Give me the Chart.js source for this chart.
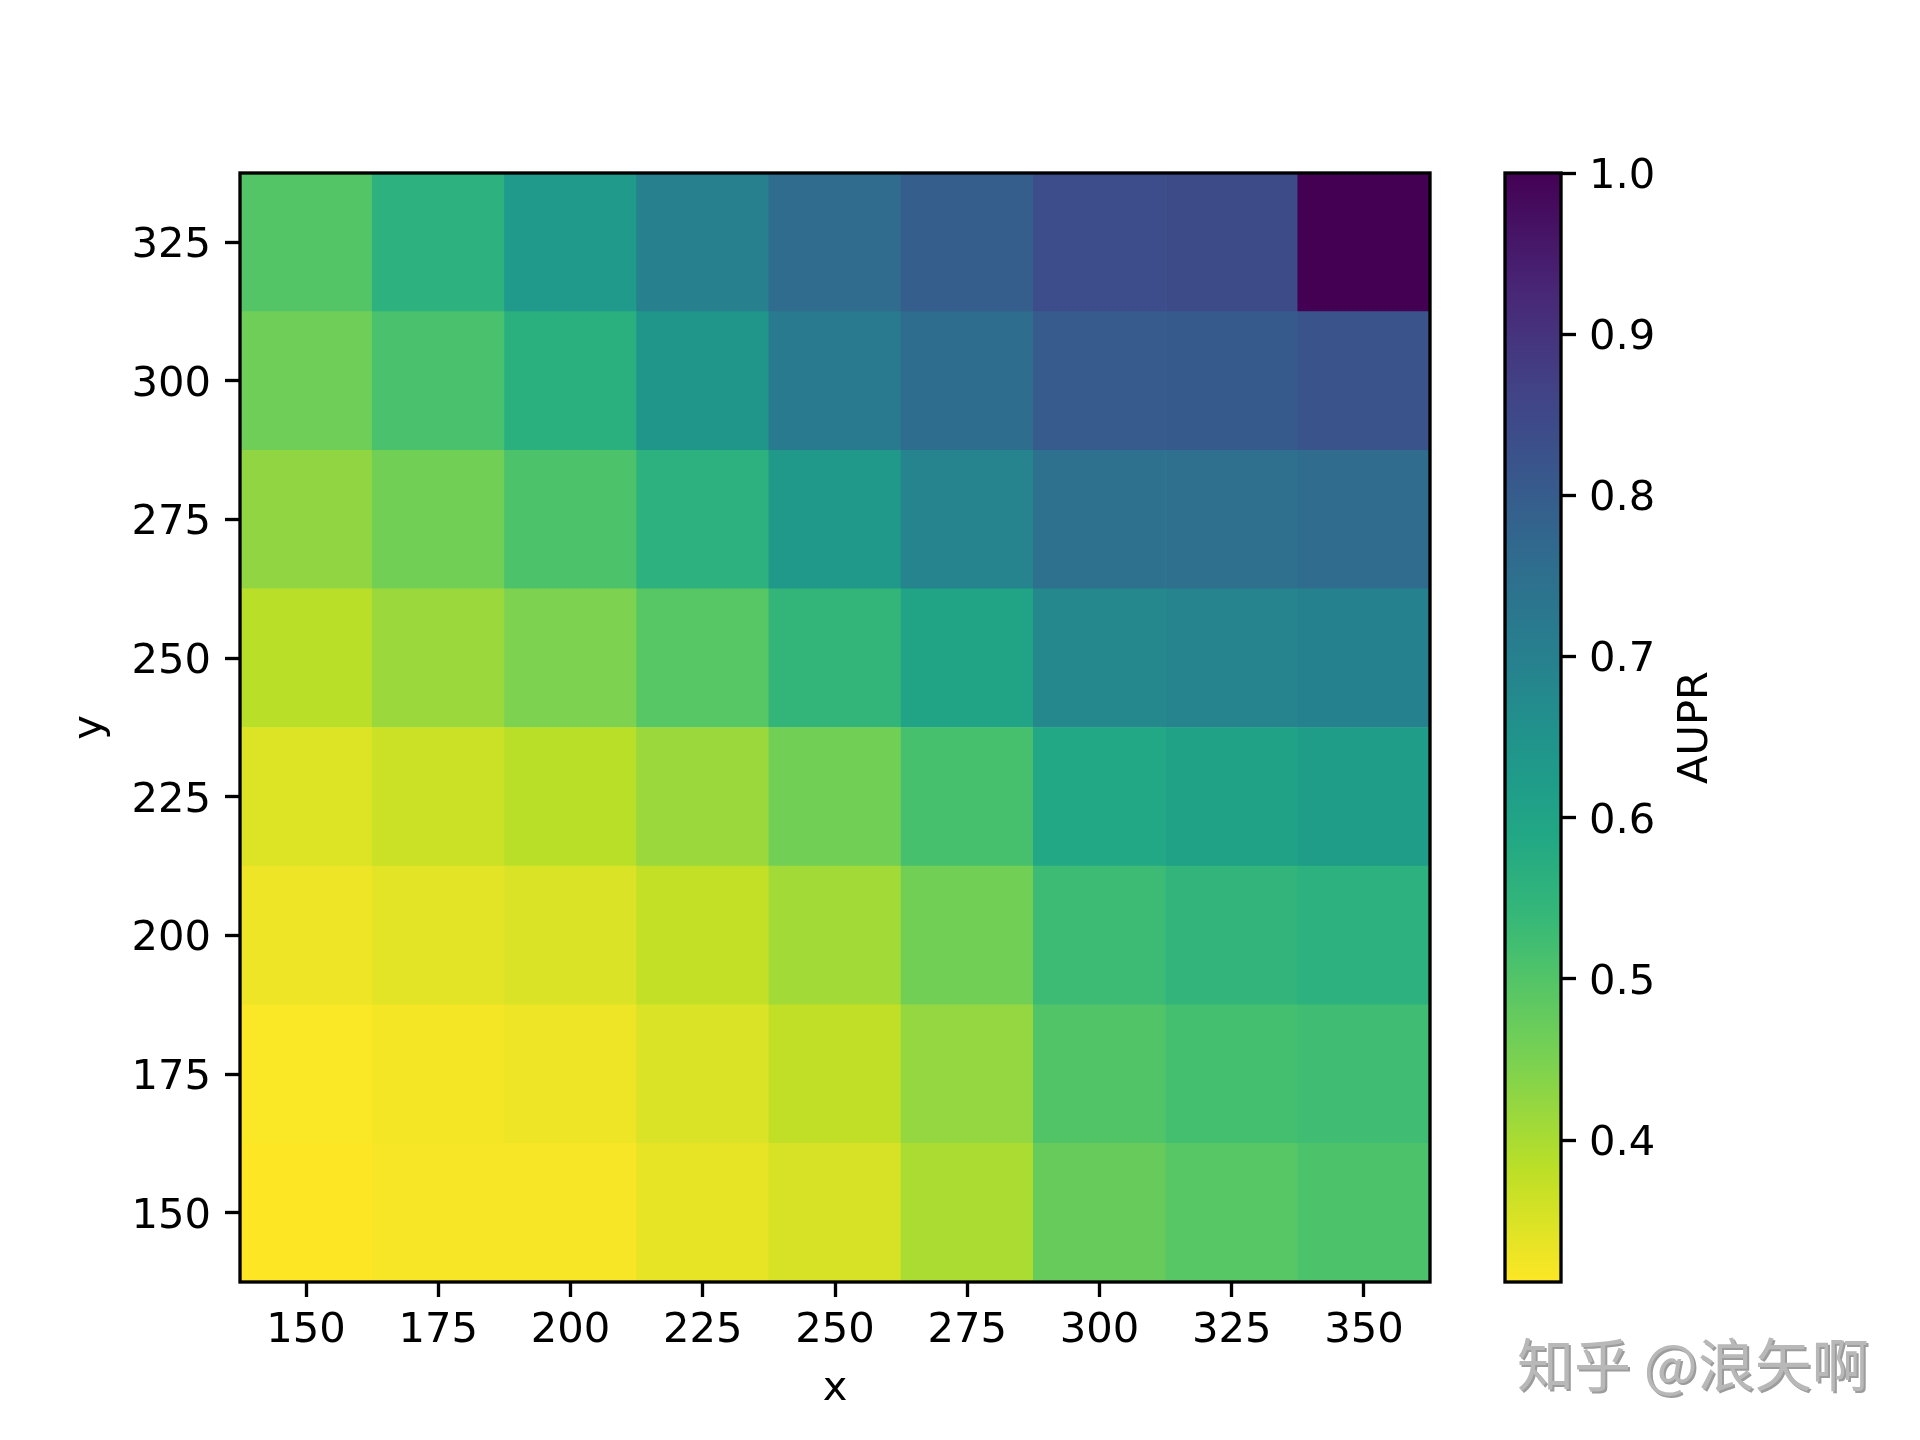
<!DOCTYPE html>
<html>
<head>
<meta charset="utf-8">
<script src="https://cdn.jsdelivr.net/npm/chart.js@4.4.1/dist/chart.umd.min.js"></script>
<style>
    body { margin: 0; background: #fff; width: 1920px; height: 1440px; position: relative; overflow: hidden; }
    #heat { position: absolute; left: 0; top: 0; }
    #cbar { position: absolute; left: 1460px; top: 0; }
    #mark {
        position: absolute; left: 1517px; top: 1333px;
        font-family: "Noto Sans CJK SC"; font-size: 57px; line-height: 57px;
        color: #b8b8b8; white-space: nowrap; text-shadow: 2px 2px 0 #9c9c9c;
    }
</style>
</head>
<body>
<canvas id="heat" width="1460" height="1440"></canvas>
<canvas id="cbar" width="460" height="1440"></canvas>
<div id="mark">知乎 @浪矢啊</div>
<script>
// x categories and y rows
const xLabels = ["150", "175", "200", "225", "250", "275", "300", "325", "350"];
const yValues = [150, 175, 200, 225, 250, 275, 300, 325];
const cellHalf = 12.5;

// AUPR per row (y), left to right over x
const row150 = [0.312, 0.319, 0.320, 0.336, 0.353, 0.400, 0.474, 0.494, 0.508];
const row175 = [0.315, 0.322, 0.329, 0.350, 0.377, 0.422, 0.501, 0.518, 0.525];
const row200 = [0.329, 0.340, 0.350, 0.374, 0.408, 0.460, 0.529, 0.549, 0.560];
const row225 = [0.346, 0.367, 0.384, 0.415, 0.460, 0.515, 0.587, 0.604, 0.620];
const row250 = [0.384, 0.415, 0.446, 0.494, 0.546, 0.600, 0.680, 0.690, 0.697];
const row275 = [0.426, 0.460, 0.508, 0.560, 0.635, 0.690, 0.745, 0.748, 0.760];
const row300 = [0.463, 0.512, 0.567, 0.642, 0.718, 0.756, 0.804, 0.807, 0.821];
const row325 = [0.498, 0.560, 0.630, 0.700, 0.760, 0.797, 0.840, 0.842, 1.000];
const auprRows = [row150, row175, row200, row225, row250, row275, row300, row325];

// tick labels
const yTicks = [150, 175, 200, 225, 250, 275, 300, 325];
const cbarTicks = [0.4, 0.5, 0.6, 0.7, 0.8, 0.9, 1.0];

const allValues = auprRows.flat();
const vmin = Math.min(...allValues);
const vmax = Math.max(...allValues);

// viridis stops
const VIRIDIS = [
    [0.0, "#440154"], [0.1, "#482475"], [0.111, "#482878"], [0.2, "#414487"],
    [0.222, "#3e4989"], [0.3, "#355f8d"], [0.333, "#31688e"], [0.4, "#2a788e"],
    [0.444, "#26828e"], [0.5, "#21918c"], [0.556, "#1f9e89"], [0.6, "#22a884"],
    [0.667, "#35b779"], [0.7, "#44bf70"], [0.778, "#6ece58"], [0.8, "#7ad151"],
    [0.889, "#b5de2b"], [0.9, "#bddf26"], [1.0, "#fde725"]
];

function hexToRgb(h) {
    return [parseInt(h.slice(1, 3), 16), parseInt(h.slice(3, 5), 16), parseInt(h.slice(5, 7), 16)];
}

function viridis(s) {
    s = Math.max(0, Math.min(1, s));
    for (let i = 0; i < VIRIDIS.length - 1; i++) {
        const [s0, c0] = VIRIDIS[i];
        const [s1, c1] = VIRIDIS[i + 1];
        if (s <= s1) {
            const f = (s - s0) / (s1 - s0);
            const a = hexToRgb(c0), b = hexToRgb(c1);
            const rgb = a.map((v, k) => Math.round(v + (b[k] - v) * f));
            return `rgb(${rgb[0]}, ${rgb[1]}, ${rgb[2]})`;
        }
    }
    return VIRIDIS[VIRIDIS.length - 1][1];
}

// reversed colormap: low = yellow, high = purple
function cellColor(v) {
    return viridis((vmax - v) / (vmax - vmin));
}

const FS = 41.67;
Chart.defaults.font.family = "'DejaVu Sans', sans-serif";
Chart.defaults.font.size = FS;
Chart.defaults.color = "#000";

const tickGrid = {
    drawOnChartArea: false, drawTicks: true, tickLength: 15,
    tickWidth: 3.33, tickColor: "#000"
};

const framePlugin = {
    id: "frame",
    afterDatasetsDraw(chart) {
        const { ctx, chartArea: a } = chart;
        ctx.save();
        ctx.strokeStyle = "#000";
        ctx.lineWidth = 3.33;
        ctx.strokeRect(a.left, a.top, a.right - a.left, a.bottom - a.top);
        ctx.restore();
    }
};

const heatDatasets = yValues.map((y, i) => ({
    label: "y = " + y,
    data: auprRows[i].map(() => [y - cellHalf, y + cellHalf]),
    backgroundColor: auprRows[i].map(cellColor),
    borderWidth: 0,
    categoryPercentage: 1,
    barPercentage: 1
}));

new Chart(document.getElementById("heat"), {
    type: "bar",
    data: { labels: xLabels, datasets: heatDatasets },
    options: {
        responsive: false,
        animation: false,
        devicePixelRatio: 1,
        layout: { padding: { left: 0, top: 173, right: 30, bottom: 0 } },
        plugins: { legend: { display: false }, tooltip: { enabled: false } },
        scales: {
            x: {
                type: "category",
                stacked: true,
                offset: true,
                grid: Object.assign({ offset: false }, tickGrid),
                border: { display: false },
                ticks: { padding: 9, maxRotation: 0, autoSkip: false },
                title: { display: true, text: "x", padding: { top: 0, bottom: 26 } },
                afterFit: s => { s.height = 158; }
            },
            y: {
                type: "linear",
                min: yValues[0] - cellHalf,
                max: yValues[yValues.length - 1] + cellHalf,
                grid: tickGrid,
                border: { display: false },
                afterBuildTicks: s => { s.ticks = yTicks.map(v => ({ value: v })); },
                ticks: { padding: 14, labelOffset: 4, callback: v => String(v) },
                title: { display: true, text: "y", padding: { top: 65, bottom: 0 } },
                afterFit: s => { s.width = 240; }
            }
        }
    },
    plugins: [framePlugin]
});

const cbarLabelPlugin = {
    id: "cbarLabel",
    afterDraw(chart) {
        const { ctx, chartArea: a } = chart;
        ctx.save();
        ctx.translate(a.right + 146, (a.top + a.bottom) / 2);
        ctx.rotate(-Math.PI / 2);
        ctx.font = `${FS}px 'DejaVu Sans'`;
        ctx.fillStyle = "#000";
        ctx.textAlign = "center";
        ctx.textBaseline = "alphabetic";
        ctx.fillText("AUPR", 0, 0);
        ctx.restore();
    }
};

new Chart(document.getElementById("cbar"), {
    type: "bar",
    data: {
        labels: ["AUPR"],
        datasets: [{
            data: [[vmin, vmax]],
            backgroundColor: c => {
                const chart = c.chart;
                if (!chart.chartArea) return "#888";
                const ys = chart.scales.y;
                const g = chart.ctx.createLinearGradient(0, ys.getPixelForValue(vmax), 0, ys.getPixelForValue(vmin));
                VIRIDIS.forEach(([s, col]) => g.addColorStop(s, col));
                return g;
            },
            borderWidth: 0,
            categoryPercentage: 1,
            barPercentage: 1
        }]
    },
    options: {
        responsive: false,
        animation: false,
        devicePixelRatio: 1,
        layout: { padding: { left: 45, top: 173, right: 159, bottom: 158 } },
        plugins: { legend: { display: false }, tooltip: { enabled: false } },
        scales: {
            x: { display: false, offset: true },
            y: {
                position: "right",
                min: vmin,
                max: vmax,
                grid: tickGrid,
                border: { display: false },
                afterBuildTicks: s => { s.ticks = cbarTicks.map(v => ({ value: v })); },
                ticks: { padding: 13, labelOffset: 4, callback: v => Number(v).toFixed(1) },
                afterFit: s => { s.width = 200; }
            }
        }
    },
    plugins: [framePlugin, cbarLabelPlugin]
});
</script>
</body>
</html>
